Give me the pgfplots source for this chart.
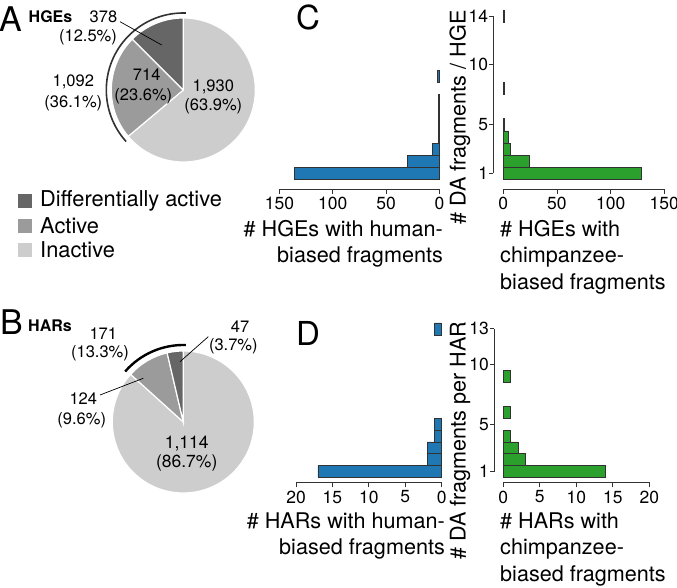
\documentclass[border=0pt]{standalone}
\usepackage{pgfplots}
\pgfplotsset{compat=1.18}
\usepackage{fontspec}
\setmainfont{TeX Gyre Heros}
\definecolor{cblue}{RGB}{31,119,180}
\definecolor{cgreen}{RGB}{44,160,44}
\definecolor{cdark}{RGB}{102,102,102}
\definecolor{cmid}{RGB}{155,155,155}
\definecolor{clight}{RGB}{205,205,205}
\definecolor{cline}{RGB}{50,50,50}
\newcommand\fs[1]{\fontsize{#1}{#1}\selectfont}
\pgfplotsset{
  barax/.style={scale only axis, anchor=south west, xbar, bar width=1,
    enlargelimits=false, axis x line*=bottom, axis y line=none,
    axis line style={-, draw=cline, line width=0.8pt},
    tick align=outside, major tick length=5pt,
    tick style={draw=cline, line width=0.8pt},
    tick label style={font=\fs{17.5}},
    /pgf/number format/assume math mode=true,
    clip=false},
  yax/.style={scale only axis, anchor=south west, width=1pt, xmin=0, xmax=1,
    enlargelimits=false, axis y line*=left, axis x line=none,
    axis line style={-, draw=cline, line width=0.8pt},
    tick align=outside, major tick length=4pt,
    tick style={draw=cline, line width=0.8pt},
    tick label style={font=\fs{17.5}},
    yticklabel style={inner sep=1pt},
    /pgf/number format/assume math mode=true},
  hbar/.style={fill=cblue, draw=cline, line width=0.7pt},
  cbar/.style={fill=cgreen, draw=cline, line width=0.7pt},
}
\begin{document}
\begin{tikzpicture}
% pie data
\def\Ada{378}\def\Aact{714}\def\Ain{1930}
\def\Bda{47}\def\Bact{124}\def\Bin{1114}
\pgfmathsetmacro{\Atot}{\Ada+\Aact+\Ain}
\pgfmathsetmacro{\aAone}{90+\Ada/\Atot*360}
\pgfmathsetmacro{\aAtwo}{\aAone+\Aact/\Atot*360}
\pgfmathsetmacro{\Btot}{\Bda+\Bact+\Bin}
\pgfmathsetmacro{\aBone}{90+\Bda/\Btot*360}
\pgfmathsetmacro{\aBtwo}{\aBone+\Bact/\Btot*360}

% canvas axis: pies, legend, labels
\begin{axis}[at={(0pt,0pt)}, anchor=south west, scale only axis, width=677pt, height=588pt,
  xmin=0, xmax=677, ymin=0, ymax=588, hide axis, clip=false]
\addplot[draw=none] coordinates {(0,0)};
% Pie A
\filldraw[fill=clight, draw=white, line width=1.2pt] (183.3,498) -- ++(\aAtwo:72pt) arc[start angle=\aAtwo, end angle=450, radius=72pt] -- cycle;
\filldraw[fill=cmid, draw=white, line width=1.2pt] (183.3,498) -- ++(\aAone:72pt) arc[start angle=\aAone, end angle=\aAtwo, radius=72pt] -- cycle;
\filldraw[fill=cdark, draw=white, line width=1.2pt] (183.3,498) -- ++(90:72pt) arc[start angle=90, end angle=\aAone, radius=72pt] -- cycle;
\draw[line width=1.6pt, cline] (183.3,498) ++(88:77pt) arc[start angle=88, end angle=222, radius=77pt];
\draw[line width=0.7pt, black] (120,566.3) -- (161.7,543);
\node[font=\fs{16.5}] at (103.5,571.3) {378};
\node[font=\fs{16.5}] at (88,550.5) {(12.5\%)};
\node[font=\fs{16.5}] at (73.3,506.3) {1,092};
\node[font=\fs{16.5}] at (73.3,484.7) {(36.1\%)};
\node[font=\fs{16.5}] at (146.7,513) {714};
\node[font=\fs{16.5}] at (143.3,491.3) {(23.6\%)};
\node[font=\fs{16.5}] at (213.3,501.3) {1,930};
\node[font=\fs{16.5}] at (213.3,481.3) {(63.9\%)};
\node[font=\fs{34}] at (11,568.5) {A};
\node[font=\bfseries\fs{16}] at (50.5,571.3) {HGEs};
% Pie B
\filldraw[fill=clight, draw=white, line width=1.2pt] (183.3,166) -- ++(\aBtwo:71pt) arc[start angle=\aBtwo, end angle=450, radius=71pt] -- cycle;
\filldraw[fill=cmid, draw=white, line width=1.2pt] (183.3,166) -- ++(\aBone:71pt) arc[start angle=\aBone, end angle=\aBtwo, radius=71pt] -- cycle;
\filldraw[fill=cdark, draw=white, line width=1.2pt] (183.3,166) -- ++(90:71pt) arc[start angle=90, end angle=\aBone, radius=71pt] -- cycle;
\draw[line width=2.4pt, black] (183.3,166) ++(88:77pt) arc[start angle=88, end angle=139, radius=77pt];
\draw[line width=0.7pt, black] (208.3,251.3) -- (180,226.3);
\draw[line width=0.7pt, black] (100,193) -- (143.3,209.7);
\node[font=\fs{16.5}] at (103.3,254.7) {171};
\node[font=\fs{16.5}] at (100,234.7) {(13.3\%)};
\node[font=\fs{16.5}] at (240,261.3) {47};
\node[font=\fs{16.5}] at (233.3,241.3) {(3.7\%)};
\node[font=\fs{16.5}] at (83.3,189.7) {124};
\node[font=\fs{16.5}] at (81.7,168) {(9.6\%)};
\node[font=\fs{17.5}] at (186.7,144.7) {1,114};
\node[font=\fs{17.5}] at (186.7,124.7) {(86.7\%)};
\node[font=\fs{34}] at (11.7,266.3) {B};
\node[font=\bfseries\fs{16}] at (50,262) {HARs};
% legend
\fill[cdark] (18,380) rectangle (32,394);
\fill[cmid] (18,355) rectangle (32,369);
\fill[clight] (18,331) rectangle (32,345);
\node[anchor=west, font=\fs{21.8}, inner sep=0pt] at (40,387) {Differentially active};
\node[anchor=west, font=\fs{21.8}, inner sep=0pt] at (40,362) {Active};
\node[anchor=west, font=\fs{21.8}, inner sep=0pt] at (40,338) {Inactive};
% panel letters
\node[font=\fs{33}] at (308,571) {C};
\node[font=\fs{33}] at (308,255) {D};
% y labels
\node[rotate=90, font=\fs{21.6}] at (460,470.5) {\# DA fragments / HGE};
\node[rotate=90, font=\fs{21.6}] at (460,147.5) {\# DA fragments per HAR};
% x labels C
\node[anchor=base east, font=\fs{21.6}, inner sep=0pt] at (443,351.5) {\# HGEs with human-};
\node[anchor=base east, font=\fs{21.6}, inner sep=0pt] at (443,325) {biased fragments};
\node[anchor=base west, font=\fs{21.6}, inner sep=0pt] at (500,351.5) {\# HGEs with};
\node[anchor=base west, font=\fs{21.6}, inner sep=0pt] at (500,325) {chimpanzee-};
\node[anchor=base west, font=\fs{21.6}, inner sep=0pt] at (500,298.5) {biased fragments};
% x labels D
\node[anchor=base east, font=\fs{21.6}, inner sep=0pt] at (445,59.7) {\# HARs with human-};
\node[anchor=base east, font=\fs{21.6}, inner sep=0pt] at (445,33.2) {biased fragments};
\node[anchor=base west, font=\fs{21.6}, inner sep=0pt] at (500,59.7) {\# HARs with};
\node[anchor=base west, font=\fs{21.6}, inner sep=0pt] at (500,33.2) {chimpanzee-};
\node[anchor=base west, font=\fs{21.6}, inner sep=0pt] at (500,6.7) {biased fragments};
\end{axis}

% ---- Panel C ----
\begin{axis}[barax, at={(279.5pt,402.6pt)}, width=160pt, height=176.66pt,
  x dir=reverse, xmin=0, xmax=150, ymin=0, ymax=14.6, xtick={0,50,100,150},
  axis x line shift=3.6pt]
\addplot[hbar] coordinates {(136,1) (30,2) (7,3) (1,4) (1,5) (1,6) (1,7) (2,9)};
\end{axis}
\begin{axis}[barax, at={(503.3pt,402.6pt)}, width=161pt, height=176.66pt,
  xmin=0, xmax=150, ymin=0, ymax=14.6, xtick={0,50,100,150},
  axis x line shift=3.6pt]
\addplot[cbar] coordinates {(129,1) (24,2) (7,3) (5,4) (1,5) (1,8) (1,14)};
\end{axis}
\begin{axis}[yax, at={(493.3pt,414.7pt)}, height=157.3pt, ymin=1, ymax=14, ytick={1,5,10,14}]
\addplot[draw=none] coordinates {(0,1)};
\end{axis}

% ---- Panel D ----
\begin{axis}[barax, at={(296pt,105.7pt)}, width=145.7pt, height=162.9pt,
  x dir=reverse, xmin=0, xmax=20, ymin=0.109, ymax=13.8, xtick={0,5,10,15,20}]
\addplot[hbar] coordinates {(17,1) (2,2) (2,3) (1,4) (1,5) (1,13)};
\end{axis}
\begin{axis}[barax, at={(503.3pt,105.7pt)}, width=146pt, height=162.9pt,
  xmin=0, xmax=20, ymin=0.109, ymax=13.8, xtick={0,5,10,15,20}]
\addplot[cbar] coordinates {(14,1) (3,2) (2,3) (1,4) (1,6) (1,9)};
\end{axis}
\begin{axis}[yax, at={(494pt,116.3pt)}, height=142.8pt, ymin=1, ymax=13, ytick={1,5,10,13}]
\addplot[draw=none] coordinates {(0,1)};
\end{axis}

\pgfresetboundingbox
\path (0pt,0pt) rectangle (677pt,588pt);
\end{tikzpicture}
\end{document}
